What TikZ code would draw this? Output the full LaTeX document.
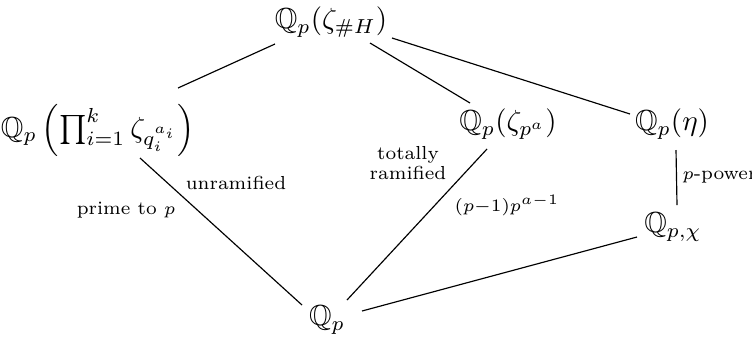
\documentclass[tikz,border=0pt]{standalone}
\usepackage{amssymb}
\begin{document}
\begin{tikzpicture}[x=0.3448pt,y=-0.3448pt,
  fld/.style={inner sep=0pt},
  lbl/.style={font=\fontsize{6.5}{7.6}\selectfont, inner sep=0pt, align=center}]
\useasboundingbox (0,0) rectangle (752,338);
% fields
\node[fld] (T) at (331,22) {$\mathbb{Q}_p(\zeta_{\#H})$};
\node[fld] (L) at (98,130) {$\mathbb{Q}_p\left(\prod_{i=1}^k \zeta_{q_i^{a_i}}\right)$};
\node[fld] (Z) at (508,124) {$\mathbb{Q}_p(\zeta_{p^a})$};
\node[fld] (E) at (672,124) {$\mathbb{Q}_p(\eta)$};
\node[fld] (C) at (673,227) {$\mathbb{Q}_{p,\chi}$};
\node[fld] (B) at (327,320) {$\mathbb{Q}_p$};
% connectors
\draw ([shift={(-56,22)}]T.center) -- ([shift={(80,-42)}]L.center);
\draw ([shift={(39,21)}]T.center) -- ([shift={(-38,-21)}]Z.center);
\draw ([shift={(61,16)}]T.center) -- ([shift={(-42,-10)}]E.center);
\draw ([shift={(42,28)}]L.center) -- ([shift={(-25,-15)}]B.center);
\draw ([shift={(-21,25)}]Z.center) -- ([shift={(20,-20)}]B.center);
\draw ([shift={(-36,10)}]C.center) -- ([shift={(35,-9)}]B.center);
\draw ([shift={(4,26)}]E.center) -- ([shift={(4,-22)}]C.center);
% labels
\node[lbl] (l1) at (236,183) {unramified};
\node[lbl] (l2) at (126,210) {prime to $p$};
\node[lbl] (l3) at (408,163) {totally\\[-0.5pt]ramified};
\node[lbl] (l4) at (507,205) {$(p{-}1)p^{a-1}$};
\node[lbl,anchor=west] (l5) at (682,177) {$p$-power};
\end{tikzpicture}
\end{document}
